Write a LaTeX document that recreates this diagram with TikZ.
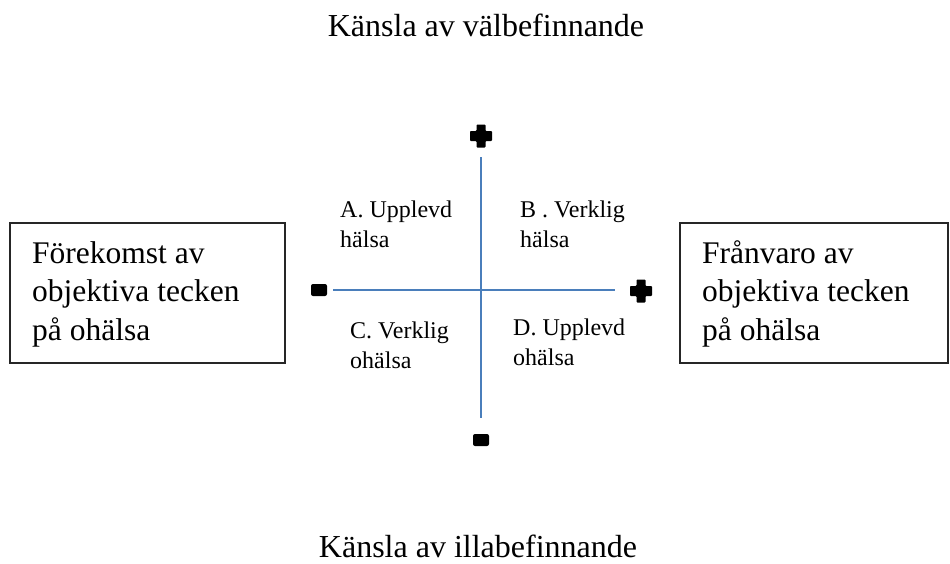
\documentclass[tikz,border=0pt]{standalone}
\usepackage{fontspec}
\setmainfont{Liberation Serif}
\begin{document}
\begin{tikzpicture}[x=1pt,y=-1pt,
  axis/.style={draw={rgb,255:red,74;green,126;blue,187},line width=1.2pt},
  sidebox/.style={draw=black!85,line width=1.2pt,fill=none},
  title/.style={font=\fontsize{32}{38}\selectfont,inner sep=0pt,anchor=base},
  boxtext/.style={font=\fontsize{31.5}{38.5}\selectfont,inner sep=0pt,anchor=base west,align=left},
  quadtext/.style={font=\fontsize{24}{30}\selectfont,inner sep=0pt,anchor=base west,align=left},
  plussign/.pic={\fill[black,rounded corners=0.8pt]
     (-4.5,-11.5) -- (4.5,-11.5) -- (4.5,-5) -- (11,-5) -- (11,5) -- (4.5,5)
     -- (4.5,11.5) -- (-4.5,11.5) -- (-4.5,5) -- (-11,5) -- (-11,-5) -- (-4.5,-5) -- cycle;},
  minussign/.pic={\fill[black,rounded corners=2pt] (-8,-6) rectangle (8,6);}
]
\useasboundingbox (0,0) rectangle (950,563);

% titles
\node[title] (top) at (486,36) {Känsla av välbefinnande};
\node[title] (bottom) at (478,557) {Känsla av illabefinnande};

% side boxes (text anchored at the baseline of its last line)
\draw[sidebox] (10,223) rectangle (285,363);
\draw[sidebox] (680,223) rectangle (948,363);
\node[boxtext] (left) at (32,340) {Förekomst av\\objektiva tecken\\på ohälsa};
\node[boxtext] (right) at (702,340) {Frånvaro av\\objektiva tecken\\på ohälsa};

% axes
\coordinate (ytop) at (481,157);
\coordinate (ybot) at (481,418);
\coordinate (xleft) at (333,290);
\coordinate (xright) at (615,290);
\draw[axis] (ytop) -- (ybot);
\draw[axis] (xleft) -- (xright);

% axis end signs
\pic at (481,136) {plussign};
\pic at (641,291) {plussign};
\pic at (319,290) {minussign};
\pic at (481,440) {minussign};

% quadrant labels
\node[quadtext] (qa) at (340,247) {A. Upplevd\\hälsa};
\node[quadtext] (qb) at (520,247) {B . Verklig\\hälsa};
\node[quadtext] (qc) at (350,368) {C. Verklig\\ohälsa};
\node[quadtext] (qd) at (513,365) {D. Upplevd\\ohälsa};
\end{tikzpicture}
\end{document}
